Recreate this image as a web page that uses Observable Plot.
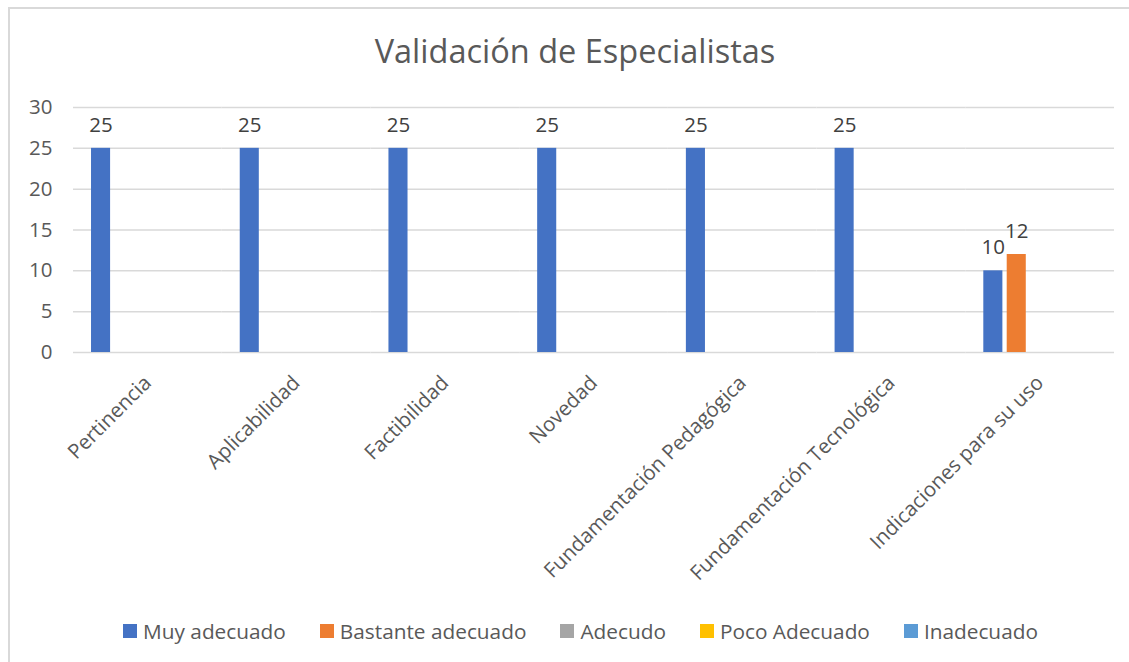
<!DOCTYPE html>
<html>
<head>
<meta charset="utf-8">
<script src="https://cdn.jsdelivr.net/npm/d3@7"></script>
<script src="https://cdn.jsdelivr.net/npm/@observablehq/plot@0.6"></script>
<style>
  html, body { margin: 0; padding: 0; background: #fff; }
  body { width: 1129px; height: 662px; overflow: hidden; position: relative; font-family: "Open Sans", sans-serif; }
  #frame { position: absolute; left: 8px; top: 7px; width: 1200px; height: 700px; border-left: 2px solid #d9d9d9; border-top: 2px solid #d9d9d9; }
  #title { position: absolute; left: 0; top: 0; width: 1150px; height: 95px; text-align: center; font-size: 32.5px; color: #595959; line-height: 1; padding-top: 35px; box-sizing: border-box; }
  #chart { position: absolute; left: 0; top: 95px; }
  #legend { position: absolute; left: 0; top: 617px; width: 1161px; display: flex; justify-content: center; gap: 34px; font-size: 20.8px; color: #595959; }
  .item { display: flex; align-items: center; gap: 6px; white-space: nowrap; }
  .sw { width: 14px; height: 14px; display: inline-block; }
</style>
</head>
<body>
<div id="frame"></div>
<div id="title">Validación de Especialistas</div>
<div id="chart"></div>
<div id="legend"></div>
<script>
const categories = ["Pertinencia", "Aplicabilidad", "Factibilidad", "Novedad", "Fundamentación Pedagógica", "Fundamentación Tecnológica", "Indicaciones para su uso"];
const series = ["Muy adecuado", "Bastante adecuado", "Adecudo", "Poco Adecuado", "Inadecuado"];
const colors = ["#4472C4", "#ED7D31", "#A5A5A5", "#FFC000", "#5B9BD5"];
const muyAdecuado = [25, 25, 25, 25, 25, 25, 10];
const bastanteAdecuado = [0, 0, 0, 0, 0, 0, 12];
const adecudo = [0, 0, 0, 0, 0, 0, 0];
const pocoAdecuado = [0, 0, 0, 0, 0, 0, 0];
const inadecuado = [0, 0, 0, 0, 0, 0, 0];
const yTicks = [0, 5, 10, 15, 20, 25, 30];

const seriesValues = [muyAdecuado, bastanteAdecuado, adecudo, pocoAdecuado, inadecuado];
const rows = [];
categories.forEach((c, i) => {
  series.forEach((s, j) => rows.push({cat: c, series: s, value: seriesValues[j][i]}));
});

const chart = Plot.plot({
  width: 1129,
  height: 505,
  marginLeft: 73,
  marginRight: 15,
  marginTop: 12,
  marginBottom: 248,
  style: {fontFamily: "Open Sans", color: "#595959", background: "transparent", overflow: "visible"},
  fx: {domain: categories, padding: 0, round: false, label: null},
  x: {domain: series, paddingInner: 0.185, paddingOuter: 0.77, round: false, axis: null},
  y: {domain: [0, 30], label: null},
  color: {domain: series, range: colors},
  marks: [
    Plot.gridY(yTicks, {stroke: "#d9d9d9", strokeOpacity: 1, strokeWidth: 1.5}),
    Plot.axisY(yTicks, {tickSize: 0, tickPadding: 21, fontSize: 20.5, label: null, fill: "#595959"}),
    Plot.axisFx({anchor: "bottom", tickRotate: -45, tickSize: 0, tickPadding: 27, fontSize: 20.5, label: null, fill: "#595959"}),
    Plot.barY(rows, {fx: "cat", x: "series", y: "value", fill: "series"}),
    Plot.text(rows.filter(d => d.value > 0), {fx: "cat", x: "series", y: "value", text: d => String(d.value), dy: -23, fontSize: 20.5, fill: "#404040"})
  ]
});
document.getElementById("chart").appendChild(chart);

const legend = document.getElementById("legend");
series.forEach((s, i) => {
  const item = document.createElement("div");
  item.className = "item";
  const sw = document.createElement("span");
  sw.className = "sw";
  sw.style.background = colors[i];
  const t = document.createElement("span");
  t.textContent = s;
  item.appendChild(sw);
  item.appendChild(t);
  legend.appendChild(item);
});
</script>
</body>
</html>
